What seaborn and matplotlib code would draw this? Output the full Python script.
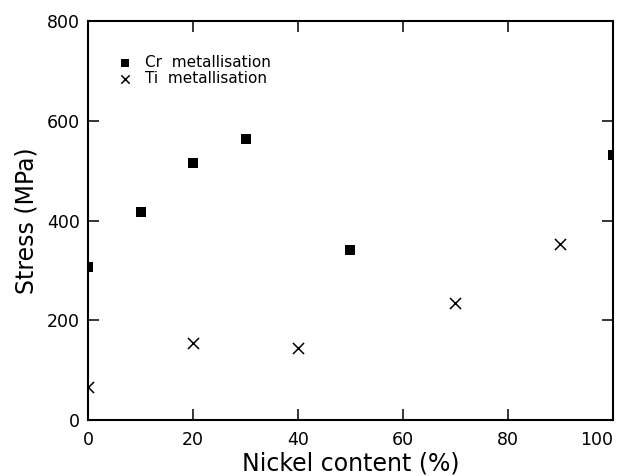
import pandas as pd
import matplotlib
matplotlib.use("Agg")
import matplotlib.pyplot as plt
import seaborn as sns

cr_nickel = [0, 10, 20, 30, 50, 100]
cr_stress = [307, 418, 516, 563, 341, 531]
ti_nickel = [0, 20, 40, 70, 90]
ti_stress = [67, 155, 144, 234, 353]

cr = pd.DataFrame({'nickel': cr_nickel, 'stress': cr_stress})
ti = pd.DataFrame({'nickel': ti_nickel, 'stress': ti_stress})

sns.set_style('ticks')
plt.rcParams['font.family'] = ['DejaVu Sans']
plt.rcParams['text.color'] = 'black'

fig = plt.figure(figsize=(6.18, 4.76), dpi=100)
ax = fig.add_axes([0.1424, 0.1176, 0.8495, 0.838])

sns.scatterplot(data=cr, x='nickel', y='stress', marker='s', color='black',
                s=52, linewidth=0, ax=ax, label='Cr  metallisation')
sns.scatterplot(data=ti, x='nickel', y='stress', marker='x', color='black',
                s=64, linewidth=1.1, ax=ax, label='Ti  metallisation')

ax.set_xlim(0, 100)
ax.set_ylim(0, 800)
ax.set_xticks(range(0, 101, 20))
ax.set_yticks(range(0, 801, 200))
ax.tick_params(direction='in', top=True, right=True, length=8, width=1.1,
               labelsize=12.5, colors='black')
ax.tick_params(axis='x', pad=8)
ax.tick_params(axis='y', pad=6)
for sp in ax.spines.values():
    sp.set_linewidth(1.5)
    sp.set_color('black')
ax.set_xlabel('Nickel content (%)', fontsize=17, color='black', labelpad=2)
ax.set_ylabel('Stress (MPa)', fontsize=17, color='black', labelpad=6)

# last x label sits against the right edge, like the original
fig.canvas.draw()
ax.get_xticklabels()[-1].set_horizontalalignment('right')

leg = ax.legend(loc='upper left', bbox_to_anchor=(0.03, 0.93), frameon=False,
                fontsize=11, handletextpad=0.3, labelspacing=0.05, markerscale=0.75,
                borderaxespad=0)
for t in leg.get_texts():
    t.set_color('black')

fig.savefig('out.png', dpi=100)
